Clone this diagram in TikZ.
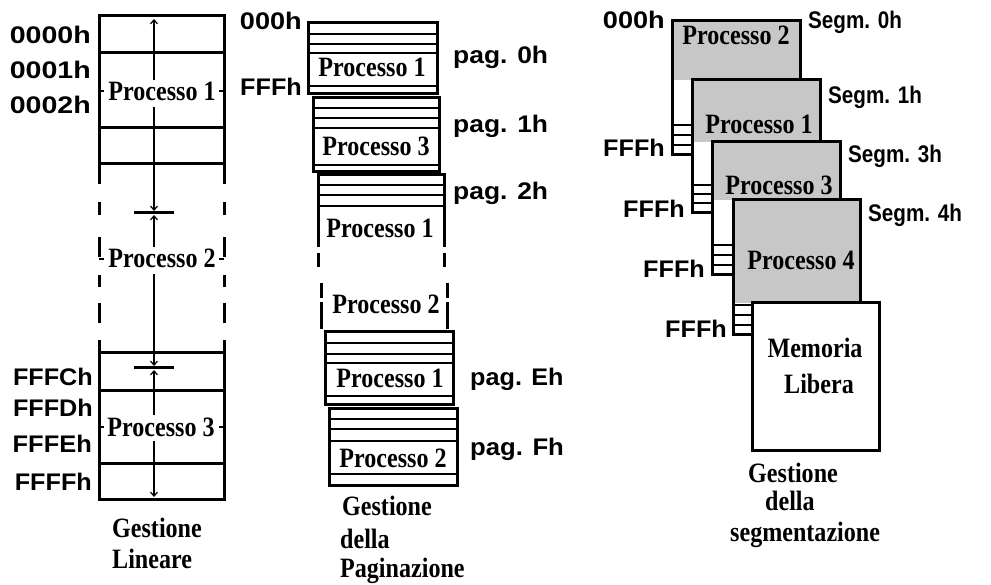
\documentclass[tikz,border=0pt]{standalone}
\usepackage{fontspec}
\usepackage{graphicx}
\setmainfont{Liberation Serif}
\newfontfamily\labfont{Liberation Sans}
\usetikzlibrary{arrows.meta}
\newcommand\hsc[2]{\scalebox{#1}[1]{#2}}
\newcommand\ptx[1]{\scalebox{0.86}[1]{#1}}
\begin{document}
\begin{tikzpicture}[x=1pt,y=-1pt,line cap=rect,
  frm/.style={line width=3pt},
  stripe/.style={line width=2.6pt},
  arr/.style={line width=1.2pt,line cap=butt,-{Straight Barb[length=4pt,width=7pt]}},
  proc/.style={font=\fontsize{28}{28}\selectfont\bfseries, inner sep=0pt},
  lab/.style={font=\labfont\fontsize{24}{24}\selectfont\bfseries, inner sep=0pt},
  stip/.style={fill=black!22},
  tick/.style={line width=2pt,line cap=butt}
]
\fill[white] (0,0) rectangle (991,585);
\useasboundingbox (0,0) rectangle (991,585);

% ================= Gestione Lineare =================
\draw[frm] (99,16) -- (99,183) (224,16) -- (224,183);
\foreach \yy in {16,53,128,164} \draw[frm] (99,\yy) -- (224,\yy);
\foreach \a/\b in {202/215,237/257,275/287,303/323}
  \draw[frm,line cap=butt] (99,\a) -- (99,\b) (224,\a) -- (224,\b);
\draw[frm] (99,342) -- (99,499) (224,342) -- (224,499);
\foreach \yy in {353,390,463,499} \draw[frm] (99,\yy) -- (224,\yy);

\node[lab, anchor=base east] (a0) at (91,44) {\hsc{1.19}{0000h}};
\node[lab, anchor=base east] (a1) at (91,79) {\hsc{1.19}{0001h}};
\node[lab, anchor=base east] (a2) at (91,114) {\hsc{1.19}{0002h}};
\node[lab, anchor=base east] (a3) at (93,385) {\hsc{1.05}{FFFCh}};
\node[lab, anchor=base east] (a4) at (93,417) {\hsc{1.05}{FFFDh}};
\node[lab, anchor=base east] (a5) at (92,452) {\hsc{1.06}{FFFEh}};
\node[lab, anchor=base east] (a6) at (92,490) {\hsc{1.05}{FFFFh}};

\node[proc, anchor=base] (lp1) at (162,101) {\ptx{Processo 1}};
\node[proc, anchor=base] (lp2) at (162,268) {\ptx{Processo 2}};
\node[proc, anchor=base] (lp3) at (161,436) {\ptx{Processo 3}};

\draw[tick] (99,91) -- (104,91) (219,91) -- (224,91);
\draw[tick] (99,259) -- (104,259) (219,259) -- (224,259);
\draw[tick] (99,427) -- (104,427) (219,427) -- (224,427);

\coordinate (c0) at (154,19);
\coordinate (b1) at (154,213);
\coordinate (b2) at (154,368);
\coordinate (c9) at (154,497);
\draw[arr, shorten <=2pt] (lp1.north -| c0) -- (c0);
\draw[arr, shorten <=6pt, shorten >=2pt] (lp1.south -| c0) -- (b1);
\draw[line width=3pt,line cap=butt] ([xshift=-20pt]b1) -- ([xshift=20pt]b1);
\draw[arr, shorten <=2pt, shorten >=2pt] (lp2.north -| b1) -- (b1);
\draw[arr, shorten <=6pt, shorten >=2pt] (lp2.south -| b1) -- (b2);
\draw[line width=3pt,line cap=butt] ([xshift=-20pt]b2) -- ([xshift=20pt]b2);
\draw[arr, shorten <=2pt, shorten >=2pt] (lp3.north -| b2) -- (b2);
\draw[arr, shorten <=5pt] (lp3.south -| b2) -- (c9);

\node[proc, anchor=base west] (g1) at (112,537) {\ptx{Gestione}};
\node[proc, anchor=base west] (g2) at (112,568) {\ptx{Lineare}};

% ================= Gestione della Paginazione =================
% page 0
\draw[frm, fill=white] (308,23) rectangle (437,94);
\foreach \yy in {34,44,53,86} \draw[stripe] (308,\yy) -- (437,\yy);
% page 1
\draw[frm, fill=white] (313,98) rectangle (439,172);
\foreach \yy in {108,118,128,165} \draw[stripe] (313,\yy) -- (439,\yy);
% page 2 (open)
\draw[frm, line cap=butt] (318,247) -- (318,175) -- (444,175) -- (444,247);
\foreach \yy in {185,195,206} \draw[stripe] (318,\yy) -- (444,\yy);
\draw[frm, line cap=butt] (318,253) -- (318,267) (444,253) -- (444,267);
\draw[frm, line cap=butt] (321,283) -- (321,298) (447,283) -- (447,298);
\draw[frm, line cap=butt] (321,302) -- (321,329) (447,302) -- (447,329);
% page E
\draw[frm, fill=white] (325,332) rectangle (453,404);
\foreach \yy in {343,354,363,396} \draw[stripe] (325,\yy) -- (453,\yy);
% page F
\draw[frm, fill=white] (329,408) rectangle (457,485);
\foreach \yy in {419,429,441,474} \draw[stripe] (329,\yy) -- (457,\yy);

\node[proc, anchor=base] (mp0) at (372,77) {\ptx{Processo 1}};
\node[proc, anchor=base] (mp1) at (376,156) {\ptx{Processo 3}};
\node[proc, anchor=base] (mp2) at (380,238) {\ptx{Processo 1}};
\node[proc, anchor=base] (mp3) at (386,314) {\ptx{Processo 2}};
\node[proc, anchor=base] (mp4) at (390,388) {\ptx{Processo 1}};
\node[proc, anchor=base] (mp5) at (393,467) {\ptx{Processo 2}};

\node[lab, anchor=base east] (m0) at (302,30) {\hsc{1.13}{000h}};
\node[lab, anchor=base east] (m1) at (302,96) {\hsc{1.05}{FFFh}};
\node[lab, anchor=base west] (pg0) at (453,64) {\hsc{1.1}{pag. 0h}};
\node[lab, anchor=base west] (pg1) at (453,133) {\hsc{1.1}{pag. 1h}};
\node[lab, anchor=base west] (pg2) at (453,200) {\hsc{1.1}{pag. 2h}};
\node[lab, anchor=base west] (pgE) at (470,385) {\hsc{1.05}{pag. Eh}};
\node[lab, anchor=base west] (pgF) at (470,455) {\hsc{1.07}{pag. Fh}};

\node[proc, anchor=base west] (g3) at (342,515) {\ptx{Gestione}};
\node[proc, anchor=base west] (g4) at (340,548) {\ptx{della}};
\node[proc, anchor=base west] (g5) at (340,577) {\ptx{Paginazione}};

% ================= Gestione della segmentazione =================
% segment 0
\fill[white] (672,21) rectangle (800,155);
\fill[stip] (672,21) rectangle (800,80);
\foreach \yy in {125,135,145} \draw[stripe] (672,\yy) -- (692,\yy);
\draw[frm] (672,21) rectangle (800,155);
% segment 1
\fill[white] (692,80) rectangle (820,213);
\fill[stip] (692,80) rectangle (820,142);
\foreach \yy in {185,194,203} \draw[stripe] (692,\yy) -- (712,\yy);
\draw[frm] (692,80) rectangle (820,213);
% segment 3
\fill[white] (712,142) rectangle (840,275);
\fill[stip] (712,142) rectangle (840,200);
\foreach \yy in {245,255,265} \draw[stripe] (712,\yy) -- (733,\yy);
\draw[frm] (712,142) rectangle (840,275);
% segment 4
\fill[white] (733,200) rectangle (860,335);
\fill[stip] (733,200) rectangle (860,303);
\foreach \yy in {305,315,325} \draw[stripe] (733,\yy) -- (752,\yy);
\draw[frm] (733,200) rectangle (860,335);
% free memory
\draw[frm, fill=white] (752,303) rectangle (879,450);

\node[proc, anchor=base] (sp0) at (736,45) {\ptx{Processo 2}};
\node[proc, anchor=base] (sp1) at (759,134) {\ptx{Processo 1}};
\node[proc, anchor=base] (sp2) at (779,195) {\ptx{Processo 3}};
\node[proc, anchor=base] (sp3) at (801,270) {\ptx{Processo 4}};
\node[proc, anchor=base] (ml1) at (815,358) {\ptx{Memoria}};
\node[proc, anchor=base] (ml2) at (819,393) {\ptx{Libera}};

\node[lab, anchor=base east] (r0) at (665,29) {\hsc{1.13}{000h}};
\node[lab, anchor=base east] (r1) at (665,157) {\hsc{1.05}{FFFh}};
\node[lab, anchor=base east] (r2) at (685,218) {\hsc{1.05}{FFFh}};
\node[lab, anchor=base east] (r3) at (705,278) {\hsc{1.05}{FFFh}};
\node[lab, anchor=base east] (r4) at (727,338) {\hsc{1.05}{FFFh}};
\node[lab, anchor=base west] (s0) at (808,29) {\hsc{0.86}{Segm. 0h}};
\node[lab, anchor=base west] (s1) at (828,104) {\hsc{0.86}{Segm. 1h}};
\node[lab, anchor=base west] (s3) at (848,163) {\hsc{0.86}{Segm. 3h}};
\node[lab, anchor=base west] (s4) at (868,222) {\hsc{0.86}{Segm. 4h}};

\node[proc, anchor=base west] (g6) at (748,482) {\ptx{Gestione}};
\node[proc, anchor=base west] (g7) at (765,510) {\ptx{della}};
\node[proc, anchor=base west] (g8) at (730,541) {\ptx{segmentazione}};
\end{tikzpicture}
\end{document}
